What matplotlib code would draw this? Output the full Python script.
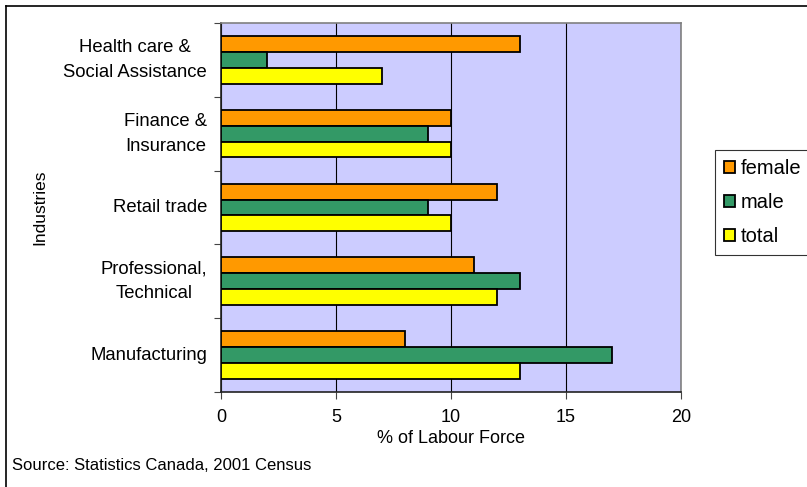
import numpy as np
import matplotlib.pyplot as plt
from matplotlib.lines import Line2D

plt.rcParams["font.family"] = ["Liberation Sans", "DejaVu Sans"]

industries = [
    "Health care &\nSocial Assistance",
    "Finance &\nInsurance",
    "Retail trade",
    "Professional,\nTechnical",
    "Manufacturing",
]
female = [13, 10, 12, 11, 8]
male = [2, 9, 9, 13, 17]
total = [7, 10, 10, 12, 13]

series = [("female", female, "#FF9900"), ("male", male, "#339966"), ("total", total, "#FFFF00")]

fig = plt.figure(figsize=(8.07, 4.87), dpi=100)
ax = fig.add_axes([0.2739, 0.1951, 0.57, 0.7577])
ax.set_facecolor("#CCCCFF")

pos = np.arange(len(industries))[::-1]
h = 0.215
for i, (name, vals, col) in enumerate(series):
    ax.barh(pos + (1 - i) * h, vals, height=h, color=col, edgecolor="black",
            linewidth=1.3, label=name, zorder=3)

ax.set_xlim(0, 20)
ax.set_ylim(-0.5, len(industries) - 0.5)
ax.set_xticks([0, 5, 10, 15, 20])
ax.xaxis.grid(True, color="black", linewidth=0.8, zorder=1)
ax.set_axisbelow(True)

ax.set_yticks(pos)
ax.set_yticklabels(industries, multialignment="center", linespacing=1.6,
                   va="center")
ax.set_yticks(np.arange(len(industries) + 1) - 0.5, minor=True)
ax.tick_params(axis="y", which="major", length=0, pad=10, labelsize=13.3)
ax.tick_params(axis="y", which="minor", length=5, width=0.8, color="#444444")
ax.tick_params(axis="x", length=5, width=0.8, color="#444444", pad=7, labelsize=13)

for s in ["top", "right"]:
    ax.spines[s].set_color("#808080")
    ax.spines[s].set_linewidth(1.2)
for s in ["left", "bottom"]:
    ax.spines[s].set_color("#222222")
    ax.spines[s].set_linewidth(1.2)

ax.set_xlabel("% of Labour Force", fontsize=13, labelpad=3)
fig.text(40 / 807, 1 - 207 / 487, "Industries", rotation=90, fontsize=12.5,
         ha="center", va="center")

leg = ax.legend(loc="upper left", bbox_to_anchor=(715 / 807, 1 - 150 / 487),
                bbox_transform=fig.transFigure, fontsize=14.5, frameon=True,
                fancybox=False, edgecolor="black", handlelength=0.55,
                handleheight=0.55, handletextpad=0.3, labelspacing=0.75,
                borderpad=0.45, borderaxespad=0)
leg.get_frame().set_linewidth(0.8)

fig.text(12 / 807, 1 - 466 / 487, "Source: Statistics Canada, 2001 Census",
         fontsize=12, ha="left", va="center")

# outer frame around the whole chart
fig.add_artist(Line2D([6 / 807, 1.0], [1 - 6 / 487] * 2, color="black", linewidth=1.2))
fig.add_artist(Line2D([6 / 807] * 2, [0, 1 - 6 / 487], color="black", linewidth=1.2))

fig.savefig("out.png", dpi=100)
